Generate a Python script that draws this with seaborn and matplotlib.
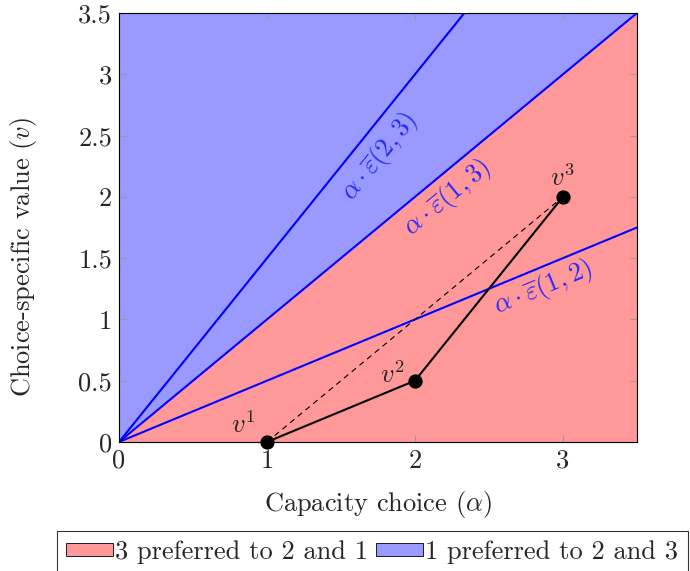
import numpy as np
import pandas as pd
import matplotlib
matplotlib.use("Agg")
import matplotlib.pyplot as plt
import seaborn as sns
from matplotlib.patches import Patch

sns.set_style("white")
plt.rcParams['font.family'] = 'serif'
plt.rcParams['font.serif'] = ['cmr10']
plt.rcParams['mathtext.fontset'] = 'cm'
plt.rcParams['axes.formatter.use_mathtext'] = True

# Data
slopes = [1.5, 1.0, 0.5]                 # eps(2,3), eps(1,3), eps(1,2)
slope_labels = [r'$\alpha\cdot\overline{\varepsilon}(2,3)$',
                r'$\alpha\cdot\overline{\varepsilon}(1,3)$',
                r'$\alpha\cdot\overline{\varepsilon}(1,2)$']
alpha_pts = [1, 2, 3]
v_pts = [0, 0.5, 2]
pt_labels = [r'$v^1$', r'$v^2$', r'$v^3$']
xticks = [0, 1, 2, 3]
yticks = [0, 0.5, 1, 1.5, 2, 2.5, 3, 3.5]
ytick_labels = ['0', '0.5', '1', '1.5', '2', '2.5', '3', '3.5']
legend_labels = ['3 preferred to 2 and 1', '1 preferred to 2 and 3']

FS = 19

fig = plt.figure(figsize=(6.9, 5.71), dpi=100)
ax = fig.add_axes([0.1725, 0.226, 0.7505, 0.751])

red = '#FF9999'
blue = '#9999FF'
xs = np.array([0, 3.5])
ax.fill_between(xs, 0, xs * slopes[1], color=red, lw=0, zorder=0)
ax.fill_between(xs, xs * slopes[1], 3.5, color=blue, lw=0, zorder=0)

for s in slopes:
    df = pd.DataFrame({'a': xs, 'v': xs * s})
    sns.lineplot(data=df, x='a', y='v', color='blue', lw=1.5, ax=ax, zorder=2)

pts = pd.DataFrame({'a': alpha_pts, 'v': v_pts})
sns.lineplot(data=pts, x='a', y='v', color='black', lw=1.5, ax=ax, zorder=3)
dash = pts.iloc[[0, 2]]
sns.lineplot(data=dash, x='a', y='v', color='black', lw=0.8, ax=ax, zorder=3,
             linestyle=(0, (5, 4)))
sns.scatterplot(data=pts, x='a', y='v', color='black', s=90, ax=ax, zorder=4,
                edgecolor='black', clip_on=False)

# slope labels
lab_pos = [(1.76, 2.33, 51.2), (2.22, 1.99, 39.6), (2.865, 1.256, 22.5)]
for (x, y, r), t in zip(lab_pos, slope_labels):
    ax.text(x, y, t, color='#2828FF', fontsize=FS, rotation=r,
            ha='center', va='center', rotation_mode='anchor')

pt_pos = [(0.838, 0.139), (1.845, 0.547), (3.0, 2.16)]
for (x, y), t in zip(pt_pos, pt_labels):
    ax.text(x, y, t, fontsize=FS, ha='center', va='center')

ax.set_xlim(0, 3.5)
ax.set_ylim(0, 3.5)
ax.set_xticks(xticks)
ax.set_yticks(yticks)
ax.set_xticklabels([str(t) for t in xticks])
ax.set_yticklabels(ytick_labels)
ax.tick_params(direction='in', length=5, width=0.8, color='#999999',
               labelsize=FS, top=True, right=True, bottom=True, left=True,
               pad=5)
for sp in ax.spines.values():
    sp.set_color('black')
    sp.set_linewidth(0.8)
ax.set_xlabel(r'Capacity choice ($\alpha$)', fontsize=FS, labelpad=12)
ax.set_ylabel(r'Choice-specific value ($v$)', fontsize=FS)
ax.yaxis.set_label_coords(-0.155, 0.431)

handles = [Patch(facecolor=red, edgecolor='black', lw=0.6),
           Patch(facecolor=blue, edgecolor='black', lw=0.6)]
leg = fig.legend(handles, legend_labels, ncol=2, loc='upper left',
                 bbox_to_anchor=(0.0826, 0.070), bbox_transform=fig.transFigure,
                 fontsize=FS, frameon=True, fancybox=False, edgecolor='black',
                 handlelength=1.78, handleheight=0.4, handletextpad=0.08,
                 columnspacing=0.3, borderpad=0.35, borderaxespad=0)
leg.get_frame().set_linewidth(0.8)

fig.savefig('out.png', dpi=100)
